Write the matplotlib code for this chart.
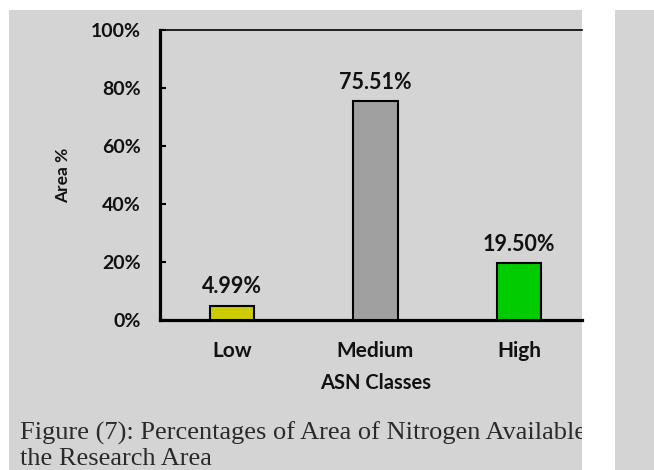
import matplotlib
matplotlib.use("Agg")
import matplotlib.pyplot as plt
from matplotlib.patches import Rectangle

categories = ["Low", "Medium", "High"]
values = [4.99, 75.51, 19.50]
value_labels = ["4.99%", "75.51%", "19.50%"]
bar_colors = ["#cccc00", "#a0a0a0", "#00cc00"]
yticks = [0, 20, 40, 60, 80, 100]
ytick_labels = ["0%", "20%", "40%", "60%", "80%", "100%"]
caption = "Figure (7): Percentages of Area of Nitrogen Available\nthe Research Area"

W, H = 654, 470
fig = plt.figure(figsize=(W / 100, H / 100), dpi=100)
fig.patch.set_facecolor("white")

# grey page panels (the chart was cut out of a scanned page)
panel = Rectangle((9 / W, 0), (582 - 9) / W, 1 - 10 / H, transform=fig.transFigure,
                  facecolor="#d4d4d4", edgecolor="none", zorder=0)
fig.patches.append(panel)
fig.patches.append(Rectangle((615 / W, 0), (W - 615) / W, 1 - 10 / H, transform=fig.transFigure,
                             facecolor="#d4d4d4", edgecolor="none", zorder=0))

ax = fig.add_axes([160 / W, 1 - 320 / H, (582 - 160) / W, (320 - 30) / H])
ax.set_facecolor("none")
ax.set_zorder(2)

x = range(len(categories))
bars = ax.bar(x, values, width=0.31, color=bar_colors, edgecolor="black", linewidth=1.5, zorder=3)
for b, lab in zip(bars, value_labels):
    ax.text(b.get_x() + b.get_width() / 2, b.get_height() + 2.8, lab, ha="center", va="bottom",
            fontsize=15.5, fontweight="bold", family="Lato", color="#111111")

ax.set_xlim(-0.502, 2.44)
ax.set_ylim(0, 100)
ax.set_xticks(list(x))
ax.set_xticklabels(categories, fontsize=15, fontweight="bold", family="Lato", color="#111111")
ax.tick_params(axis="x", length=0, pad=15)
ax.set_yticks(yticks)
ax.set_yticklabels(ytick_labels, fontsize=14, fontweight="bold", family="Lato", color="#111111")
ax.tick_params(axis="y", direction="in", length=4, width=1.5, pad=14)

ax.spines["right"].set_visible(False)
ax.spines["left"].set_linewidth(2.3)
ax.spines["bottom"].set_linewidth(2.3)
ax.spines["top"].set_linewidth(1.2)

ax.set_xlabel("ASN Classes", fontsize=14.5, fontweight="bold", family="Lato", color="#111111")
ax.xaxis.set_label_coords(0.511, -0.183)
ax.set_ylabel("Area %", fontsize=12.5, fontweight="bold", family="Lato", color="#111111")
ax.yaxis.set_label_coords(-0.21, 0.5)

cap = fig.text(20 / W, 1 - 446 / H, caption, ha="left", va="center", fontsize=19,
               family="Liberation Serif", color="#2a2a2a", linespacing=1.2)
cap.set_clip_path(panel)
cap.set_zorder(3)

fig.savefig("out.png", dpi=100)
